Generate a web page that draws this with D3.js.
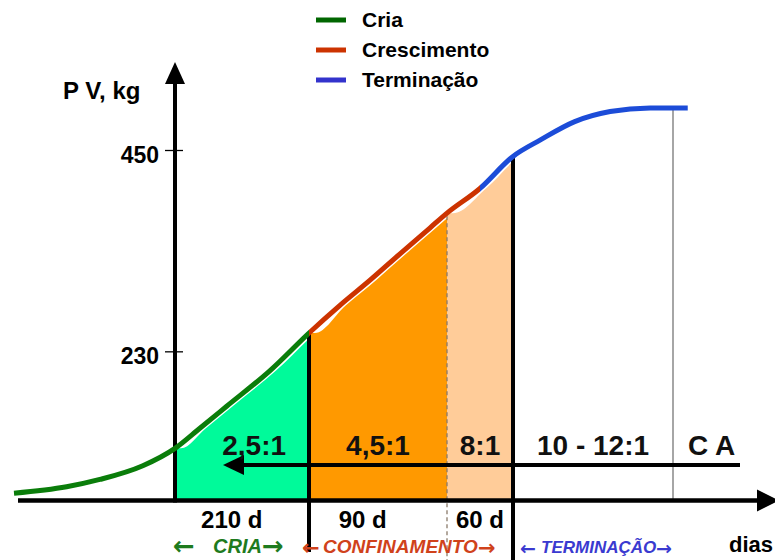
<!DOCTYPE html>
<html>
<head>
<meta charset="utf-8">
<script src="https://cdn.jsdelivr.net/npm/d3@7"></script>
<style>
  body { margin: 0; background: #fff; }
  svg { display: block; }
  text { font-family: "Liberation Sans", Arial, Helvetica, sans-serif; font-weight: bold; }
</style>
</head>
<body>
<svg id="chart" width="775" height="560"></svg>
<script>
// Live-weight growth curve: day of life vs. weight (kg)
const curveDays = [-150, -101, -70, -30, 0, 39, 81, 149, 210, 230, 250, 269, 289, 300,
                   330, 360, 384, 414, 445, 480, 513];
const curveKg   = [75, 82, 90, 105, 124, 146, 170, 209, 250, 280, 308, 336, 365, 381,
                   408, 443, 461, 481, 492, 496, 496];

// Curve phases (legend) and where the line colour changes
const phaseNames  = ["Cria", "Crescimento", "Terminação"];
const phaseBreaks = [210, 330];

// Shaded production zones (days)
const zoneStart = [0, 210, 300];
const zoneEnd   = [210, 300, 360];

// Feed conversion labels above the arrow
const ratioLabels = ["2,5:1", "4,5:1", "8:1", "10 - 12:1", "C A"];
const ratioDays   = [124, 255, 330, 430, 534];

// Duration labels under the axis
const durationLabels = ["210 d", "90 d", "60 d"];
const durationDays   = [89, 245, 330];

// Stage names under the axis
const stageLabels = ["CRIA", "CONFINAMENTO", "TERMINAÇÃO"];

const yTicks = [230, 450];
const caDay = 500;

// ---------- styles ----------
const lineColors   = ["#0A7D0A", "#CC3300", "#1C4CD8"];
const legendColors = ["#006600", "#CC3300", "#3333CC"];
const zoneFills    = ["#00FA9A", "#FF9900", "#FFCC99"];
const stageColors  = ["#1E7B1E", "#D0421B", "#3A3AD0"];

const svg = d3.select("#chart");

// Day axis is drawn piecewise (phases are not to scale)
const x = d3.scaleLinear()
  .domain([-150, 0, 210, 300, 360, 500, 590])
  .range([14, 175, 309, 447, 513, 673, 775]);
const y = d3.scaleLinear().domain([67, 450]).range([500.5, 150]);
const base = y(67);

const pts = curveDays.map((d, i) => ({ day: d, px: x(d), py: y(curveKg[i]) }));
const kgAt = d => curveKg[curveDays.indexOf(d)];

const defs = svg.append("defs");

// ---------- shaded zones (offset slightly under the curve) ----------
const shift = 6;
const zoneArea = d3.area()
  .x(p => p[0]).y0(base).y1(p => p[1])
  .curve(d3.curveMonotoneX);

zoneStart.forEach((d0, i) => {
  const d1 = zoneEnd[i];
  const id = "zone" + i;
  defs.append("clipPath").attr("id", id)
    .append("rect")
    .attr("x", x(d0)).attr("y", 0)
    .attr("width", x(d1) - x(d0)).attr("height", base);
  const top = [[x(d0), y(kgAt(d0))]].concat(
    pts.filter(p => p.day >= d0).map(p => [p.px + shift, p.py]));
  svg.append("path")
    .attr("clip-path", `url(#${id})`)
    .attr("d", zoneArea(top))
    .attr("fill", zoneFills[i]);
});

// ---------- reference verticals ----------
svg.append("line")
  .attr("x1", x(300)).attr("x2", x(300))
  .attr("y1", y(kgAt(300)) + 3).attr("y2", 560)
  .attr("stroke", "#8a7a6a").attr("stroke-width", 1.3)
  .attr("stroke-dasharray", "4,3");

svg.append("line")
  .attr("x1", x(caDay)).attr("x2", x(caDay))
  .attr("y1", y(kgAt(513))).attr("y2", base)
  .attr("stroke", "#888").attr("stroke-width", 1.5);

svg.append("line")
  .attr("x1", x(210)).attr("x2", x(210))
  .attr("y1", y(kgAt(210))).attr("y2", 552)
  .attr("stroke", "#000").attr("stroke-width", 4);

svg.append("line")
  .attr("x1", x(360)).attr("x2", x(360))
  .attr("y1", y(kgAt(360))).attr("y2", 560)
  .attr("stroke", "#000").attr("stroke-width", 4);

// ---------- axes ----------
// y axis line + arrow
svg.append("line")
  .attr("x1", x(0)).attr("x2", x(0))
  .attr("y1", 80).attr("y2", base + 2)
  .attr("stroke", "#000").attr("stroke-width", 4);
svg.append("path")
  .attr("d", `M${x(0)},62 L${x(0) + 10},84 L${x(0) - 10},84 Z`)
  .attr("fill", "#000");

const yAxis = svg.append("g")
  .attr("transform", `translate(${x(0)},0)`)
  .call(d3.axisLeft(y).tickValues(yTicks).tickSizeInner(10).tickSizeOuter(0).tickPadding(6));
yAxis.select(".domain").remove();
yAxis.selectAll(".tick line").attr("x1", 8).attr("stroke", "#000").attr("stroke-width", 1.3);
yAxis.selectAll(".tick text")
  .attr("dy", "0.55em")
  .attr("fill", "#000")
  .style("font-size", "23px")
  .style("font-family", '"Liberation Sans", Arial, sans-serif')
  .style("font-weight", "bold");

svg.append("text")
  .attr("x", 63).attr("y", 99)
  .style("font-size", "24px")
  .text("P V, kg");

// x axis line + arrow
svg.append("line")
  .attr("x1", 18).attr("x2", 760)
  .attr("y1", base).attr("y2", base)
  .attr("stroke", "#000").attr("stroke-width", 4.5);
svg.append("path")
  .attr("d", `M757,${base - 11} L779,${base} L757,${base + 11} Z`)
  .attr("fill", "#000");

svg.append("text")
  .attr("x", 773).attr("y", 552)
  .attr("text-anchor", "end")
  .style("font-size", "22px")
  .text("dias");

// ---------- growth curve, coloured by phase ----------
const line = d3.line().x(p => p.px).y(p => p.py).curve(d3.curveMonotoneX);
const cuts = [x(-150) - 5, x(phaseBreaks[0]), x(phaseBreaks[1]), 775];
lineColors.forEach((c, i) => {
  const id = "phase" + i;
  defs.append("clipPath").attr("id", id)
    .append("rect")
    .attr("x", cuts[i]).attr("y", 0)
    .attr("width", cuts[i + 1] - cuts[i]).attr("height", 560);
  svg.append("path")
    .attr("clip-path", `url(#${id})`)
    .attr("d", line(pts))
    .attr("fill", "none")
    .attr("stroke", c)
    .attr("stroke-width", 5);
});

// ---------- conversion arrow and labels ----------
svg.append("line")
  .attr("x1", 240).attr("x2", 740)
  .attr("y1", 465).attr("y2", 465)
  .attr("stroke", "#000").attr("stroke-width", 4);
svg.append("path")
  .attr("d", "M223,465 L244,455 L244,475 Z")
  .attr("fill", "#000");

svg.selectAll(".ratio")
  .data(ratioLabels)
  .join("text")
  .attr("class", "ratio")
  .attr("x", (d, i) => x(ratioDays[i]))
  .attr("y", 455)
  .attr("text-anchor", "middle")
  .style("font-size", "28px")
  .attr("fill", "#111")
  .text(d => d);

svg.selectAll(".dur")
  .data(durationLabels)
  .join("text")
  .attr("class", "dur")
  .attr("x", (d, i) => x(durationDays[i]))
  .attr("y", 528)
  .attr("text-anchor", "middle")
  .style("font-size", "24px")
  .attr("fill", "#000")
  .text(d => d);

// stage names flanked by arrows
const stageArrowL = [173, 302, 520];
const stageNameX  = [213, 323, 541];
const stageArrowR = [262, 478, 656];
const stageSize   = [20, 19, 17];
const arrowSize   = [26, 21, 19];
stageLabels.forEach((s, i) => {
  const t = svg.append("text")
    .attr("y", 553)
    .attr("fill", stageColors[i])
    .style("font-size", stageSize[i] + "px")
    .style("font-style", "italic");
  t.append("tspan")
    .attr("x", stageArrowL[i]).attr("y", 555)
    .style("font-family", '"DejaVu Sans", sans-serif')
    .style("font-style", "normal")
    .style("font-size", arrowSize[i] + "px")
    .text("←");
  t.append("tspan").attr("x", stageNameX[i]).attr("y", 553).text(s);
  t.append("tspan")
    .attr("x", stageArrowR[i]).attr("y", 555)
    .style("font-family", '"DejaVu Sans", sans-serif')
    .style("font-style", "normal")
    .style("font-size", arrowSize[i] + "px")
    .text("→");
});

// ---------- legend ----------
const legend = svg.append("g");
phaseNames.forEach((n, i) => {
  const ly = 20 + i * 30;
  legend.append("line")
    .attr("x1", 316).attr("x2", 346)
    .attr("y1", ly).attr("y2", ly)
    .attr("stroke", legendColors[i]).attr("stroke-width", 5);
  legend.append("text")
    .attr("x", 362).attr("y", ly + 7)
    .style("font-size", "21px")
    .attr("fill", "#000")
    .text(n);
});
</script>
</body>
</html>
